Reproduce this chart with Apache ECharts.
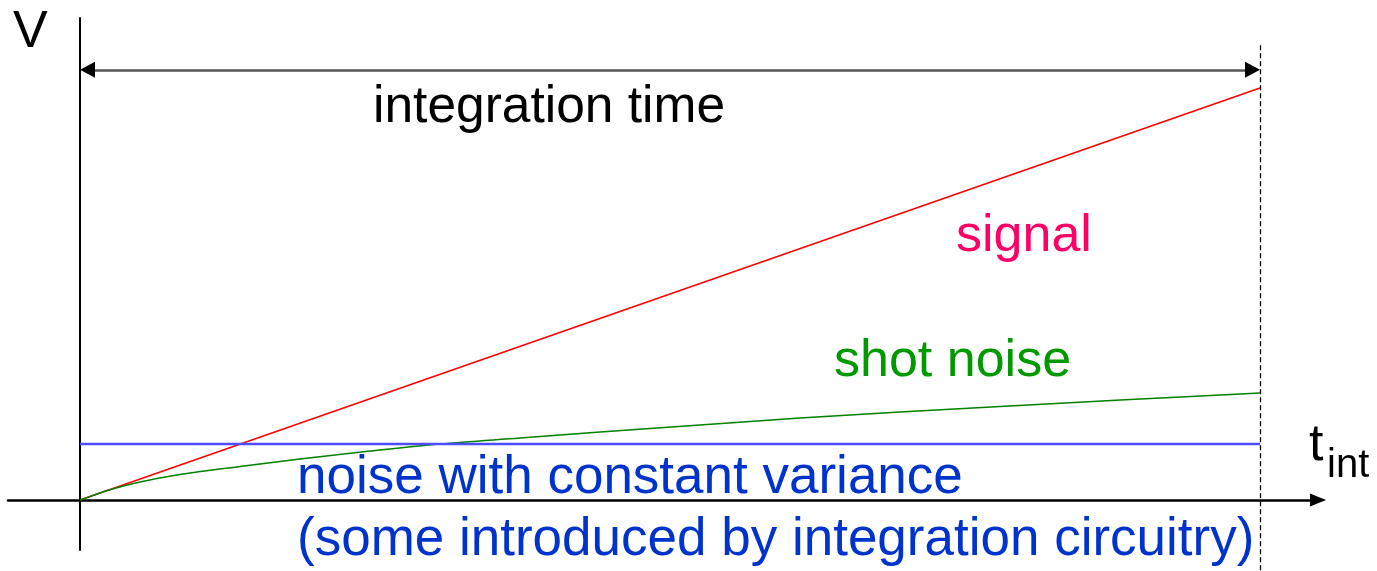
<!DOCTYPE html>
<html>
<head>
<meta charset="utf-8">
<script src="https://cdn.jsdelivr.net/npm/echarts@6/dist/echarts.min.js"></script>
<style>
html,body{margin:0;padding:0;background:#fff;}
#chart{width:1377px;height:571px;}
</style>
</head>
<body>
<div id="chart"></div>
<script>
// ---- data (time in units of t_int/10, voltage in arbitrary units) ----
const signalT = [0, 10];
const signalV = [0, 10];
const constNoiseT = [0, 10];
const constNoiseV = [1.36, 1.36];
const shotT = [0, 0.127, 0.254, 0.508, 0.847, 1.356, 1.864, 2.458, 3.051, 3.729, 4.407, 5.254, 6.102, 6.949, 7.797, 8.898, 10];
const shotV = [0, 0.126, 0.250, 0.437, 0.619, 0.813, 0.995, 1.189, 1.359, 1.505, 1.650, 1.820, 1.990, 2.136, 2.269, 2.439, 2.597];
const tInt = 10;            // end of integration
const arrowLevel = 10.44;   // height of the "integration time" arrow
const dashTop = 11.04;      // top of the dashed line

const pairs = (xs, ys) => xs.map((x, i) => [x, ys[i]]);

const FONT = '"Liberation Sans", Arial, sans-serif';
const chart = echarts.init(document.getElementById('chart'));

const option = {
  animation: false,
  backgroundColor: '#ffffff',
  grid: {left: 8, right: 59, top: 18, bottom: 21, containLabel: false},
  xAxis: {
    type: 'value',
    min: -72 / 118,
    max: 1238 / 118,
    axisLine: {onZero: true, lineStyle: {color: '#000', width: 2.5},
      symbol: ['none', 'triangle'], symbolSize: [13, 16]},
    axisTick: {show: false}, axisLabel: {show: false}, splitLine: {show: false}
  },
  yAxis: {
    type: 'value',
    min: -50 / 41.2,
    max: 482 / 41.2,
    axisLine: {onZero: true, lineStyle: {color: '#000', width: 2}},
    axisTick: {show: false}, axisLabel: {show: false}, splitLine: {show: false}
  },
  series: [
    {
      name: 'signal', type: 'line', data: pairs(signalT, signalV),
      showSymbol: false, lineStyle: {color: '#ff0000', width: 1.5},
      markLine: {
        silent: true, symbol: ['none', 'none'],
        label: {show: false},
        lineStyle: {color: '#555555', width: 2.5, type: 'solid'},
        data: [[{coord: [10 / 118, arrowLevel]}, {coord: [tInt - 10 / 118, arrowLevel]}]]
      },
      markPoint: {
        silent: true, label: {show: false},
        symbol: 'triangle', symbolSize: [16, 15],
        itemStyle: {color: '#000'},
        data: [
          {coord: [7.5 / 118, arrowLevel], symbolRotate: 90},
          {coord: [tInt - 7.5 / 118, arrowLevel], symbolRotate: -90}
        ]
      }
    },
    {
      name: 'shot noise', type: 'line', data: pairs(shotT, shotV),
      showSymbol: false, smooth: 0.35,
      lineStyle: {color: '#008000', width: 1.5}
    },
    {
      name: 'constant noise', type: 'line', data: pairs(constNoiseT, constNoiseV),
      showSymbol: false, lineStyle: {color: '#4d4dff', width: 2.5}
    }
  ]
};
chart.setOption(option);

const xEnd = chart.convertToPixel({gridIndex: 0}, [tInt, dashTop]);
const dx = Math.round(xEnd[0]) + 0.5;

function txt(text, x, baseline, size, color, align) {
  return {
    type: 'text', silent: true,
    style: {text: text, x: x, y: baseline, font: size + 'px ' + FONT, fill: color,
      align: align || 'left', verticalAlign: 'bottom'}
  };
}

chart.setOption({
  graphic: [
    {type: 'line', silent: true,
     shape: {x1: dx, y1: xEnd[1], x2: dx, y2: 571},
     style: {stroke: '#000', lineWidth: 1.3, lineDash: [5, 3]}},
    txt('V', 13, 59, 52, '#000'),
    txt('integration time', 373, 134, 51.5, '#000'),
    txt('signal', 956, 263, 52, '#ff0066'),
    txt('shot noise', 834, 388, 52, '#009900'),
    txt('noise with constant variance', 297, 505, 53, '#0033cc'),
    txt('(some introduced by integration circuitry)', 297, 567, 53, '#0033cc'),
    txt('t', 1309, 472, 52, '#000'),
    txt('int', 1327, 486, 40, '#000')
  ]
});
</script>
</body>
</html>
